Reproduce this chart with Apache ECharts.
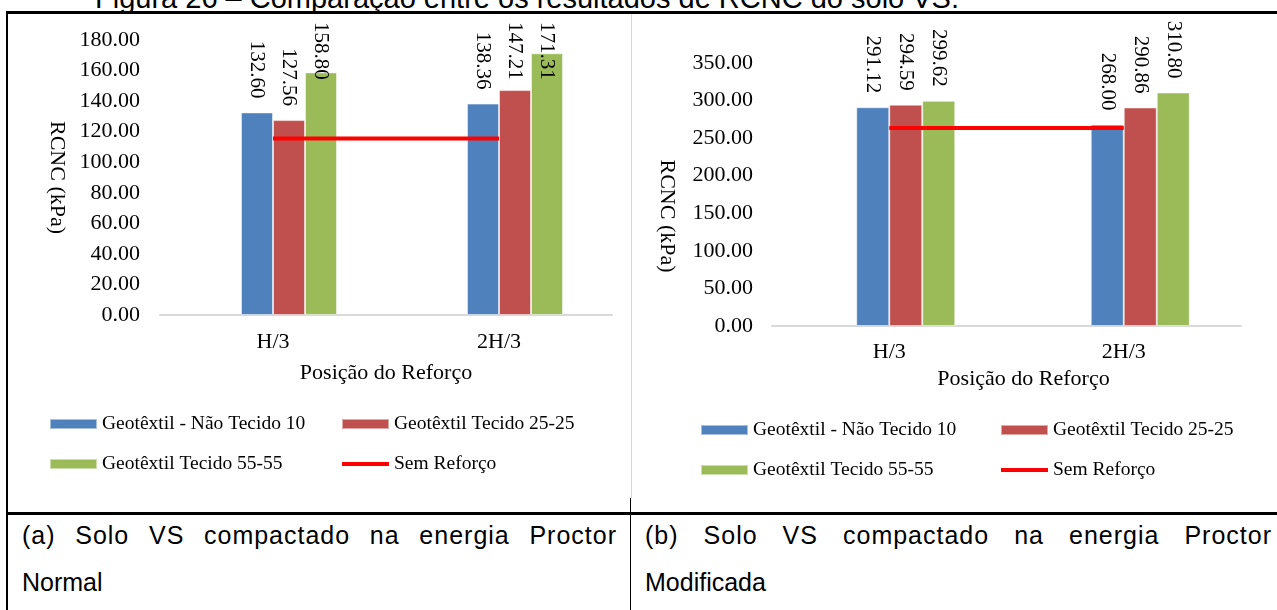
<!DOCTYPE html>
<html>
<head>
<meta charset="utf-8">
<script src="https://cdn.jsdelivr.net/npm/echarts@6/dist/echarts.min.js"></script>
<style>
  body { margin: 0; background: #fff; }
  #page { position: relative; width: 1277px; height: 610px; overflow: hidden; font-family: 'Liberation Sans', Arial, sans-serif; color: #000; }
  .chart { position: absolute; top: 0; height: 500px; }
  #chartA { left: 0; width: 631px; }
  #chartB { left: 631px; width: 646px; }
  .rule { position: absolute; background: #000; }
  .title { position: absolute; left: 95px; top: -16px; font-size: 29px; line-height: 1; white-space: nowrap; }
  .cap { position: absolute; font-size: 25px; line-height: 1; white-space: nowrap; }
  .just { text-align: justify; text-align-last: justify; letter-spacing: 1px; }
</style>
</head>
<body>
<div id="page">
  <div class="title">Figura 26 – Comparação entre os resultados de RCNC do solo VS.</div>
  <div id="chartA" class="chart"></div>
  <div id="chartB" class="chart"></div>

  <!-- bordas da tabela -->
  <div class="rule" style="left:7px; top:11px; width:1270px; height:3px;"></div>
  <div class="rule" style="left:6px; top:11px; width:2px; height:599px;"></div>
  <div class="rule" style="left:631px; top:14px; width:1px; height:484px; background:#d9d9d9;"></div>
  <div class="rule" style="left:630px; top:498px; width:1px; height:112px;"></div>
  <div class="rule" style="left:7px; top:512px; width:1270px; height:3px;"></div>

  <div class="cap just" style="left:22px; top:523px; width:595px;">(a) Solo VS compactado na energia Proctor</div>
  <div class="cap" style="left:22px; top:570px;">Normal</div>
  <div class="cap just" style="left:645px; top:523px; width:627px;">(b) Solo VS compactado na energia Proctor</div>
  <div class="cap" style="left:645px; top:570px;">Modificada</div>
</div>

<script>
// categorias e séries
const categories = ['H/3', '2H/3']
const seriesNames = ['Geotêxtil - Não Tecido 10', 'Geotêxtil Tecido 25-25', 'Geotêxtil Tecido 55-55', 'Sem Reforço']

// (a) Proctor Normal
const normalNaoTecido10 = [132.60, 138.36]
const normalTecido2525 = [127.56, 147.21]
const normalTecido5555 = [158.80, 171.31]
const normalSemReforco = [115.6, 115.6]
const normalTicks = [0, 20, 40, 60, 80, 100, 120, 140, 160, 180]

// (b) Proctor Modificada
const modNaoTecido10 = [291.12, 268.00]
const modTecido2525 = [294.59, 290.86]
const modTecido5555 = [299.62, 310.80]
const modSemReforco = [263.6, 263.6]
const modTicks = [0, 50, 100, 150, 200, 250, 300, 350]

const serif = "'Liberation Serif', 'Times New Roman', serif"
const colors = ['#4F81BD', '#C0504D', '#9BBB59', '#FF0000']

const buildOption = (p) => {
  const barLabel = {
    show: true,
    position: 'top',
    rotate: -90,
    align: 'right',
    verticalAlign: 'middle',
    distance: 14,
    fontSize: 21,
    fontFamily: serif,
    color: '#000',
    formatter: (d) => d.value.toFixed(2)
  }
  // rótulo girado: dx desloca ao longo do texto (para baixo na tela)
  const bar = (name, data, color) => ({
    name,
    type: 'bar',
    data,
    barWidth: p.barWidth,
    barGap: '0%',
    itemStyle: { color, borderColor: 'rgba(255,255,255,0.5)', borderWidth: 1 },
    label: barLabel,
    labelLayout: (q) => (q.labelRect.y < p.labelTop ? { dx: p.labelTop - q.labelRect.y } : {})
  })
  const legendBase = {
    orient: 'vertical',
    top: p.legendTop,
    padding: 0,
    itemWidth: 47,
    itemHeight: 10,
    itemGap: 20,
    icon: 'rect',
    textStyle: { fontSize: 19.5, fontFamily: serif, color: '#000', lineHeight: 20 }
  }
  return {
    animation: false,
    textStyle: { fontFamily: serif, color: '#000' },
    grid: p.grid,
    legend: [
      { ...legendBase, left: p.legendLeft[0], data: [seriesNames[0], seriesNames[2]] },
      { ...legendBase, left: p.legendLeft[1], data: [
        seriesNames[1],
        { name: seriesNames[3], icon: 'path://M0,0 L47,0 L47,4 L0,4 Z', itemStyle: { color: colors[3] } }
      ] }
    ],
    xAxis: {
      type: 'category',
      data: categories,
      name: 'Posição do Reforço',
      nameLocation: 'middle',
      nameGap: p.xNameGap,
      nameTextStyle: { fontSize: 22, fontFamily: serif, color: '#000', padding: p.xNamePad },
      axisLine: { lineStyle: { color: '#d9d9d9', width: 2 } },
      axisTick: { show: false },
      axisLabel: { fontSize: 22, fontFamily: serif, color: '#000', margin: p.xLabelMargin }
    },
    yAxis: {
      type: 'value',
      min: p.ticks[0],
      max: p.ticks[p.ticks.length - 1],
      interval: p.ticks[1] - p.ticks[0],
      name: 'RCNC (kPa)',
      nameLocation: 'middle',
      nameRotate: -90,
      nameGap: p.yNameGap,
      nameTextStyle: { fontSize: 22, fontFamily: serif, color: '#000', padding: p.yNamePad },
      axisLine: { show: false },
      axisTick: { show: false },
      splitLine: { show: false },
      axisLabel: { fontSize: 22, fontFamily: serif, color: '#000', margin: p.yLabelMargin, formatter: (v) => v.toFixed(2) }
    },
    series: [
      // posição vazia no agrupamento (as barras ficam deslocadas à direita da categoria)
      { name: 'vazio', type: 'bar', data: [null, null], barWidth: p.barWidth, barGap: '0%' },
      bar(seriesNames[0], p.values[0], colors[0]),
      bar(seriesNames[1], p.values[1], colors[1]),
      bar(seriesNames[2], p.values[2], colors[2]),
      {
        name: seriesNames[3],
        type: 'line',
        data: p.values[3],
        symbol: 'none',
        lineStyle: { color: colors[3], width: 4 },
        itemStyle: { color: colors[3] },
        z: 5
      }
    ]
  }
}

const chartA = echarts.init(document.getElementById('chartA'))
chartA.setOption(buildOption({
  grid: { left: 160, right: 19, top: 40, bottom: 185 },
  ticks: normalTicks,
  values: [normalNaoTecido10, normalTecido2525, normalTecido5555, normalSemReforco],
  barWidth: 32,
  labelTop: 22,
  legendTop: 414,
  legendLeft: [49, 341],
  xNameGap: 47,
  xNamePad: 0,
  xLabelMargin: 16,
  yNameGap: 92,
  yNamePad: 0,
  yLabelMargin: 20
}))

const chartB = echarts.init(document.getElementById('chartB'))
chartB.setOption(buildOption({
  grid: { left: 141, right: 36, top: 63, bottom: 174 },
  ticks: modTicks,
  values: [modNaoTecido10, modTecido2525, modTecido5555, modSemReforco],
  barWidth: 33,
  labelTop: 20,
  legendTop: 420,
  legendLeft: [69, 369],
  xNameGap: 41,
  xNamePad: [0, 0, 0, 34],
  xLabelMargin: 15,
  yNameGap: 94,
  yNamePad: [0, 0, 0, 43],
  yLabelMargin: 19
}))
</script>
</body>
</html>
